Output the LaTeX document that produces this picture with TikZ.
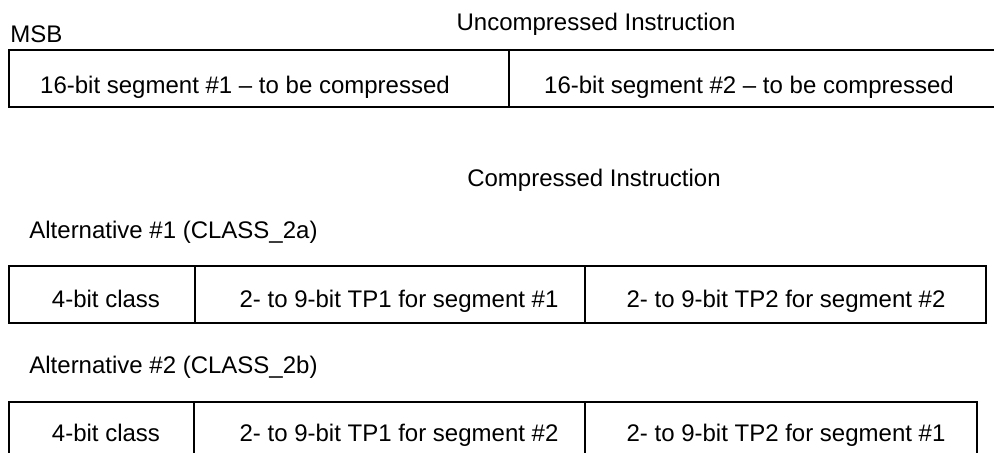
\documentclass[tikz,border=0pt]{standalone}
\usepackage{fontspec}
\setmainfont{Liberation Sans}
\usetikzlibrary{positioning}

\begin{document}
\begin{tikzpicture}[x=0.5pt, y=-0.5pt, font=\fontsize{12}{14}\selectfont]
  % Styles
  \tikzstyle{field} = [rectangle, draw, line width=1pt, outer sep=0pt, inner sep=0pt, minimum height=28.5pt, anchor=north west]
  \tikzstyle{fieldtext} = [anchor=base, inner sep=0pt]
  \tikzstyle{caption} = [anchor=base west, inner sep=0pt]

  \clip (0,0) rectangle (994,453);

  % Uncompressed instruction
  \node[caption] (msb) at (10,43) {MSB};
  \node[fieldtext] (uncomp) at (596,31) {Uncompressed Instruction};
  \node[field, minimum width=250pt] (seg1) at (9,50) {};
  \node[field, minimum width=250.5pt, right=0pt of seg1] (seg2) {};
  \node[fieldtext] (seg1text) at (245,94) {16-bit segment \#1 -- to be compressed};
  \node[fieldtext] (seg2text) at (749,94) {16-bit segment \#2 -- to be compressed};

  % Compressed instruction
  \node[fieldtext] (comp) at (594,187) {Compressed Instruction};

  % Alternative #1
  \node[caption] (alta) at (29,239) {Alternative \#1 (CLASS\_2a)};
  \node[field, minimum width=93pt] (classa) at (9,266) {};
  \node[field, minimum width=195pt, right=0pt of classa] (tpa1) {};
  \node[field, minimum width=200.5pt, right=0pt of tpa1] (tpa2) {};
  \node[fieldtext] (classatext) at (106,308) {4-bit class};
  \node[fieldtext] (tpa1text) at (399,308) {2- to 9-bit TP1 for segment \#1};
  \node[fieldtext] (tpa2text) at (786,308) {2- to 9-bit TP2 for segment \#2};

  % Alternative #2
  \node[caption] (altb) at (29,374) {Alternative \#2 (CLASS\_2b)};
  \node[field, minimum width=92.5pt] (classb) at (9,402) {};
  \node[field, minimum width=195.5pt, right=0pt of classb] (tpb1) {};
  \node[field, minimum width=196pt, right=0pt of tpb1] (tpb2) {};
  \node[fieldtext] (classbtext) at (106,441) {4-bit class};
  \node[fieldtext] (tpb1text) at (399,441) {2- to 9-bit TP1 for segment \#2};
  \node[fieldtext] (tpb2text) at (786,441) {2- to 9-bit TP2 for segment \#1};

\end{tikzpicture}
\end{document}
